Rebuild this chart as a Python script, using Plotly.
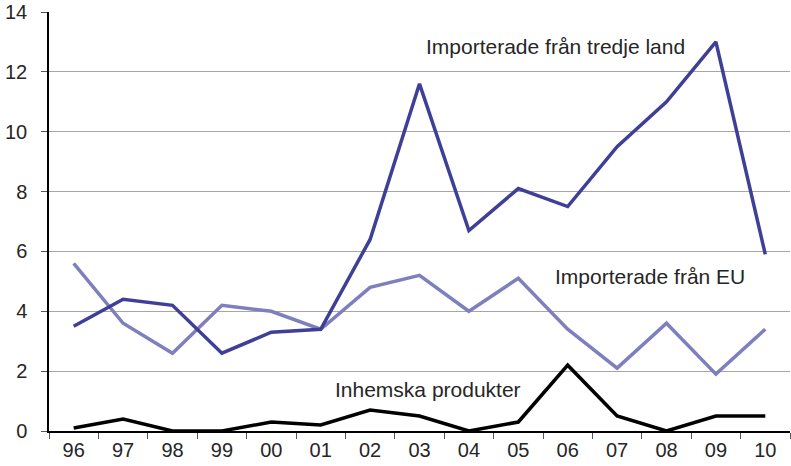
import plotly.graph_objects as go

years = ["96", "97", "98", "99", "00", "01", "02", "03", "04", "05", "06", "07", "08", "09", "10"]
tredje_land = [3.5, 4.4, 4.2, 2.6, 3.3, 3.4, 6.4, 11.6, 6.7, 8.1, 7.5, 9.5, 11.0, 13.0, 5.9]
fran_eu = [5.6, 3.6, 2.6, 4.2, 4.0, 3.4, 4.8, 5.2, 4.0, 5.1, 3.4, 2.1, 3.6, 1.9, 3.4]
inhemska = [0.1, 0.4, 0.0, 0.0, 0.3, 0.2, 0.7, 0.5, 0.0, 0.3, 2.2, 0.5, 0.0, 0.5, 0.5]

FONT = "Liberation Sans, Arial, sans-serif"
TXT = "#262626"

fig = go.Figure()
fig.add_trace(go.Scatter(x=years, y=fran_eu, mode="lines",
                         line=dict(color="#7f7fbd", width=3.5), name="Importerade från EU"))
fig.add_trace(go.Scatter(x=years, y=tredje_land, mode="lines",
                         line=dict(color="#3f3f98", width=3.5), name="Importerade från tredje land"))
fig.add_trace(go.Scatter(x=years, y=inhemska, mode="lines",
                         line=dict(color="#000000", width=3.5), name="Inhemska produkter"))

labels = [
    ("Importerade från tredje land", 555, 46),
    ("Importerade från EU", 650, 277),
    ("Inhemska produkter", 428, 389),
]
for text, px, py in labels:
    fig.add_annotation(text=text, xref="paper", yref="paper",
                       x=(px - 49) / (790 - 49), y=(431 - py) / (431 - 12),
                       showarrow=False, xanchor="center", yanchor="middle",
                       font=dict(family=FONT, size=21, color=TXT))

fig.update_layout(
    width=791, height=466,
    margin=dict(l=49, r=1, t=12, b=35),
    paper_bgcolor="white", plot_bgcolor="white",
    showlegend=False,
    font=dict(family=FONT, size=20, color=TXT),
)
fig.update_xaxes(
    type="category", range=[-0.5, len(years) - 0.5],
    tickson="boundaries", ticks="outside", ticklen=6,
    tickcolor="#555555", showgrid=False, showline=True, linecolor="black", linewidth=1.5,
    tickfont=dict(family=FONT, size=20, color=TXT),
)
fig.update_yaxes(
    range=[0, 14], dtick=2, ticks="outside", ticklen=6, tickcolor="#555555",
    ticklabelstandoff=10,
    showgrid=True, gridcolor="#a6a6a6", gridwidth=1,
    showline=True, linecolor="black", linewidth=1.5, zeroline=False,
    tickfont=dict(family=FONT, size=20, color=TXT),
)

fig.write_html("out.html")
